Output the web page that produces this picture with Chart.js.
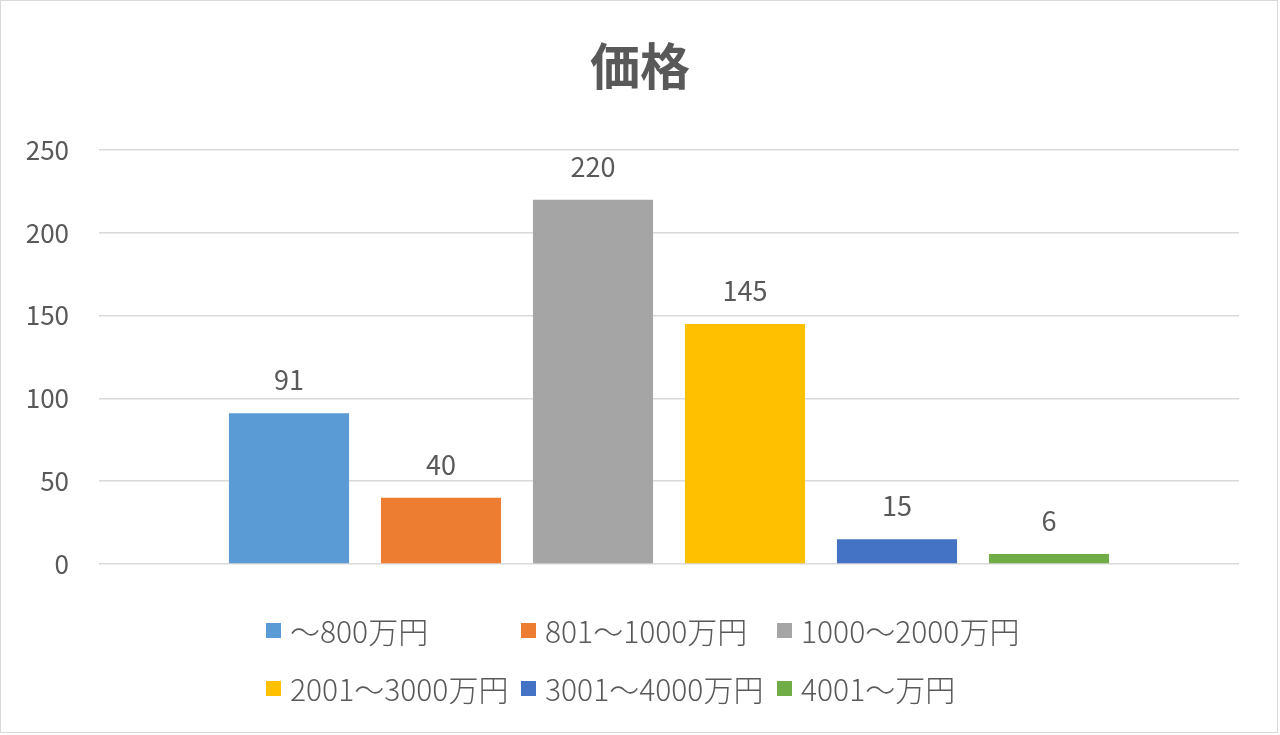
<!DOCTYPE html>
<html lang="ja">
<head>
  <meta charset="UTF-8">
  <title>価格</title>
  <script src="https://cdn.jsdelivr.net/npm/chart.js"></script>
  <style>
    body { margin: 0; background: #fff; }
    #wrap { position: relative; width: 1280px; height: 735px; }
    #frame { position: absolute; left: 0; top: 0; width: 1276px; height: 731px; border: 1px solid #d9d9d9; pointer-events: none; }
    #legend { position: absolute; left: 0; top: 0; font-family: "Noto Sans CJK JP", sans-serif; font-size: 30px; font-weight: 300; color: #595959; }
    .item { position: absolute; display: flex; align-items: center; white-space: nowrap; line-height: 1; }
    .box { width: 15px; height: 15px; margin-right: 9px; }
  </style>
</head>
<body>
  <div id="wrap">
    <canvas id="myChart" width="1280" height="735"></canvas>
    <div id="legend"></div>
    <div id="frame"></div>
  </div>

  <script>
    // price ranges (one series each, all in one category like the Excel chart)
    const chartTitle = '価格';
    const seriesNames = ['～800万円', '801～1000万円', '1000～2000万円', '2001～3000万円', '3001～4000万円', '4001～万円'];
    const counts = [91, 40, 220, 145, 15, 6];
    const colors = ['#5B9BD5', '#ED7D31', '#A5A5A5', '#FFC000', '#4472C4', '#70AD47'];
    const yTicks = [0, 50, 100, 150, 200, 250];

    const textColor = '#595959';
    const fontFamily = '"Noto Sans CJK JP", sans-serif';

    // title centred on the whole page + value labels above each bar
    const labelsPlugin = {
      id: 'labelsPlugin',
      afterDatasetsDraw(chart) {
        const ctx = chart.ctx;
        ctx.save();
        ctx.fillStyle = textColor;
        ctx.textAlign = 'center';

        ctx.font = 'bold 50px ' + fontFamily;
        ctx.textBaseline = 'middle';
        ctx.fillText(chartTitle, chart.width / 2, 66);

        ctx.font = '27px ' + fontFamily;
        ctx.textBaseline = 'alphabetic';
        chart.data.datasets.forEach((ds, i) => {
          chart.getDatasetMeta(i).data.forEach((bar, j) => {
            ctx.fillText(String(ds.data[j]), bar.x, bar.y - 23);
          });
        });
        ctx.restore();
      }
    };

    const ctx = document.getElementById('myChart').getContext('2d');
    new Chart(ctx, {
      type: 'bar',
      data: {
        labels: [''],
        datasets: seriesNames.map((name, i) => ({
          label: name,
          data: [counts[i]],
          backgroundColor: colors[i],
          borderWidth: 0
        }))
      },
      options: {
        responsive: false,
        animation: false,
        categoryPercentage: 0.8,
        barPercentage: 0.79,
        layout: { padding: { left: 0, right: 41, top: 150, bottom: 171 } },
        plugins: {
          legend: { display: false },
          tooltip: { enabled: false },
          title: { display: false }
        },
        scales: {
          x: { display: false },
          y: {
            min: 0,
            max: 250,
            afterFit(scale) { scale.width = 99; },
            afterBuildTicks(scale) { scale.ticks = yTicks.map(v => ({ value: v })); },
            border: { display: false },
            grid: { color: '#d9d9d9', lineWidth: 1.5, drawTicks: false },
            ticks: {
              color: textColor,
              padding: 30,
              font: { family: fontFamily, size: 26 }
            }
          }
        }
      },
      plugins: [labelsPlugin]
    });

    // legend laid out in a 3-column grid like the original
    const legendCols = [266, 521, 777];
    const legendRows = [630, 688];
    const legend = document.getElementById('legend');
    seriesNames.forEach((name, i) => {
      const item = document.createElement('div');
      item.className = 'item';
      item.style.left = legendCols[i % 3] + 'px';
      item.style.top = (legendRows[Math.floor(i / 3)] - 15) + 'px';
      item.style.height = '30px';
      item.innerHTML = '<span class="box" style="background:' + colors[i] + '"></span><span>' + name + '</span>';
      legend.appendChild(item);
    });
  </script>
</body>
</html>
